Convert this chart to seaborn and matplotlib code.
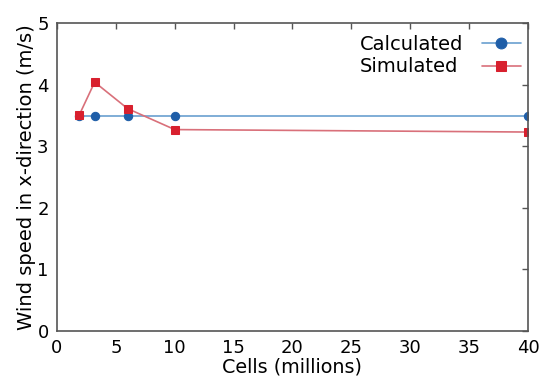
import matplotlib
matplotlib.use("Agg")
import matplotlib.pyplot as plt
import seaborn as sns
import pandas as pd

cells = [1.9, 3.2, 6.0, 10.0, 40.0]
calculated = [3.49, 3.49, 3.49, 3.49, 3.49]
simulated = [3.51, 4.04, 3.61, 3.27, 3.23]

sns.set_style("white")
plt.rcParams['font.family'] = ['DejaVu Sans']
plt.rcParams['text.color'] = 'black'
plt.rcParams['axes.labelcolor'] = 'black'
plt.rcParams['xtick.color'] = 'black'
plt.rcParams['ytick.color'] = 'black'

df = pd.DataFrame({"cells": cells * 2,
                   "speed": calculated + simulated,
                   "series": ["Calculated"] * 5 + ["Simulated"] * 5})

fig = plt.figure(figsize=(5.5, 3.92), dpi=100)
ax = fig.add_axes([0.1036, 0.1556, 0.8564, 0.7857])

sns.lineplot(data=df[df.series == "Calculated"], x="cells", y="speed", ax=ax,
             color="#6a9fd0", marker="o", markersize=6, markerfacecolor="#1f5ea8",
             markeredgecolor="#1f5ea8", linewidth=1.2, label="Calculated")
sns.lineplot(data=df[df.series == "Simulated"], x="cells", y="speed", ax=ax,
             color="#d9707a", marker="s", markersize=6, markerfacecolor="#d8202e",
             markeredgecolor="#d8202e", linewidth=1.2, label="Simulated")

ax.set_xlim(0, 40)
ax.set_ylim(0, 5)
ax.set_xticks(range(0, 41, 5))
ax.set_yticks(range(0, 6))
ax.tick_params(direction="in", length=4, width=1, top=True, right=True,
               labelsize=13, color="#555555", pad=6)
for s in ax.spines.values():
    s.set_color("#555555")
    s.set_linewidth(1.2)
    s.set_visible(True)
ax.set_xlabel("Cells (millions)", fontsize=13.8, labelpad=0)
ax.set_ylabel("Wind speed in x-direction (m/s)", fontsize=14, labelpad=1)
leg = ax.legend(loc="upper right", bbox_to_anchor=(1.003, 0.99),
                frameon=False, markerfirst=False, fontsize=14, markerscale=1.3,
                handlelength=2.0, borderaxespad=0.0, borderpad=0.45,
                labelspacing=0.18)
# left-align the legend labels while keeping handles on the right
col = leg._legend_handle_box.get_children()[0]
for item in col.get_children():
    item.mode = "expand"
    item.width = 161
fig.savefig("out.png", dpi=100)
